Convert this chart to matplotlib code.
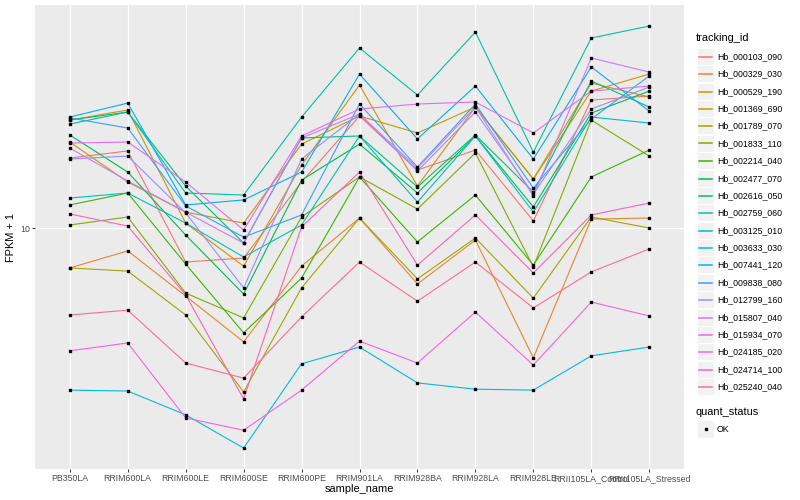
import matplotlib.pyplot as plt
from matplotlib.patches import Rectangle
from matplotlib.lines import Line2D

plt.rcParams['font.family'] = ['Liberation Sans', 'DejaVu Sans']

samples = ["PB350LA", "RRIM600LA", "RRIM600LE", "RRIM600SE", "RRIM600PE", "RRIM901LA",
           "RRIM928BA", "RRIM928LA", "RRIM928LE", "RRII105LA_Control", "RRII105LA_Stressed"]

tracking_ids = ["Hb_000103_090", "Hb_000329_030", "Hb_000529_190", "Hb_001369_690",
                "Hb_001789_070", "Hb_001833_110", "Hb_002214_040", "Hb_002477_070",
                "Hb_002616_050", "Hb_002759_060", "Hb_003125_010", "Hb_003633_030",
                "Hb_007441_120", "Hb_009838_080", "Hb_012799_160", "Hb_015807_040",
                "Hb_015934_070", "Hb_024185_020", "Hb_024714_100", "Hb_025240_040"]

# ggplot hue palette, 20 levels
colors = ["#F8766D", "#EA8331", "#D89000", "#C09B00", "#A3A500", "#7CAE00", "#39B600",
          "#00BB4E", "#00BF7D", "#00C1A3", "#00BFC4", "#00BAE0", "#00B0F6", "#35A2FF",
          "#9590FF", "#C77CFF", "#E76BF3", "#FA62DB", "#FF62BC", "#FF6C90"]

# FPKM + 1, one list per gene, in sample order
hb_000103_090 = [13.80, 14.26, 8.55, 8.71, 12.36, 16.75, 13.06, 14.32, 10.33, 18.03, 18.37]
hb_000329_030 = [8.32, 9.00, 7.31, 5.92, 8.39, 10.47, 7.73, 9.46, 5.50, 10.42, 10.47]
hb_000529_190 = [16.44, 17.22, 10.23, 8.39, 13.37, 19.32, 12.13, 17.46, 12.53, 18.79, 20.32]
hb_001369_690 = [14.86, 12.36, 10.76, 10.23, 14.72, 16.75, 15.49, 17.46, 12.53, 19.50, 18.28]
hb_001789_070 = [8.32, 8.20, 6.70, 4.70, 7.59, 10.47, 7.91, 9.55, 7.24, 10.52, 10.00]
hb_001833_110 = [10.14, 10.52, 7.41, 6.61, 10.52, 12.65, 10.91, 14.13, 8.36, 16.44, 13.93]
hb_002214_040 = [11.12, 11.75, 8.47, 6.17, 7.94, 12.65, 9.38, 11.64, 8.43, 12.65, 14.32]
hb_002477_070 = [15.35, 12.94, 9.68, 7.38, 12.47, 14.72, 11.75, 15.28, 11.02, 16.98, 18.79]
hb_002616_050 = [16.44, 17.06, 12.13, 9.33, 15.14, 15.28, 12.08, 15.35, 11.80, 19.68, 17.46]
hb_002759_060 = [16.14, 17.06, 11.75, 11.64, 16.67, 22.91, 18.45, 24.66, 14.19, 23.99, 25.35]
hb_003125_010 = [11.48, 11.75, 10.23, 8.75, 10.14, 15.28, 11.27, 15.28, 10.76, 16.67, 16.22]
hb_003633_030 = [4.74, 4.72, 4.23, 3.63, 5.35, 5.78, 4.90, 4.76, 4.74, 5.55, 5.78]
hb_007441_120 = [16.67, 17.78, 11.12, 11.38, 12.94, 20.32, 15.07, 19.23, 13.74, 20.99, 17.14]
hb_009838_080 = [16.60, 15.85, 11.07, 9.59, 10.62, 17.70, 13.24, 17.70, 12.02, 16.52, 20.14]
hb_012799_160 = [13.74, 13.93, 10.72, 7.59, 13.74, 16.90, 13.00, 17.06, 11.70, 17.30, 19.14]
hb_015807_040 = [14.45, 12.42, 10.76, 9.33, 15.14, 16.90, 13.18, 17.46, 11.59, 21.88, 20.51]
hb_015934_070 = [14.79, 14.86, 12.36, 9.91, 15.28, 17.30, 17.70, 17.87, 15.49, 18.79, 19.23]
hb_024185_020 = [5.68, 5.89, 4.17, 3.94, 4.74, 5.94, 5.37, 6.79, 5.32, 7.11, 6.67]
hb_024714_100 = [10.67, 10.09, 7.35, 4.55, 10.05, 12.94, 8.43, 10.62, 8.13, 10.62, 11.22]
hb_025240_040 = [6.70, 6.85, 5.37, 5.01, 6.64, 8.55, 7.14, 8.55, 6.92, 8.17, 9.08]

series = [hb_000103_090, hb_000329_030, hb_000529_190, hb_001369_690, hb_001789_070,
          hb_001833_110, hb_002214_040, hb_002477_070, hb_002616_050, hb_002759_060,
          hb_003125_010, hb_003633_030, hb_007441_120, hb_009838_080, hb_012799_160,
          hb_015807_040, hb_015934_070, hb_024185_020, hb_024714_100, hb_025240_040]

W, H = 800, 500
fig = plt.figure(figsize=(8, 5), dpi=100)
ax = fig.add_axes([35 / W, 31 / H, 649 / W, 464 / H])
ax.set_facecolor("#EBEBEB")

x = list(range(len(samples)))
for vals, col in zip(series, colors):
    ax.plot(x, vals, color=col, lw=0.8, zorder=3)
for vals in series:
    ax.plot(x, vals, ls="none", marker="s", ms=2.1, color="black", zorder=4)

ax.set_yscale("log")
ax.set_ylim(3.296, 27.93)
ax.set_xlim(-0.6, len(samples) - 0.4)
ax.set_yticks([10])
ax.set_yticklabels(["10"])
ax.yaxis.set_minor_locator(plt.NullLocator())
ax.set_xticks(x)
ax.set_xticklabels(samples)
ax.grid(True, color="white", lw=0.9, zorder=1)
ax.set_axisbelow(True)
for s in ax.spines.values():
    s.set_visible(False)
ax.tick_params(axis="both", colors="#333333", length=2, width=0.7, labelsize=6.3,
               labelcolor="#4D4D4D", pad=1.5)

ax.set_xlabel("sample_name", fontsize=7.9, labelpad=1)
ax.set_ylabel("FPKM + 1", fontsize=7.9, labelpad=3)


def fy(py):
    return 1 - py / H


# legend: tracking_id
fig.text(696 / W, fy(38), "tracking_id", fontsize=7.9, va="center")
step = 17.37
for i, (name, col) in enumerate(zip(tracking_ids, colors)):
    yc = round(56 + step * i) + 0.5
    fig.patches.append(Rectangle((697 / W, fy(yc + step / 2)), 17 / W, step / H,
                                 transform=fig.transFigure, facecolor="#F2F2F2",
                                 edgecolor="white", lw=0.7, zorder=1))
    fig.lines.append(Line2D([699 / W, 712 / W], [fy(yc), fy(yc)], color=col, lw=1.1,
                            transform=fig.transFigure, zorder=3))
    fig.text(717 / W, fy(yc), name, fontsize=6.3, va="center")

# legend: quant_status
fig.text(696 / W, fy(412), "quant_status", fontsize=7.9, va="center")
fig.patches.append(Rectangle((697 / W, fy(429 + step / 2)), 17 / W, step / H,
                             transform=fig.transFigure, facecolor="#F2F2F2",
                             edgecolor="white", lw=0.7, zorder=1))
fig.lines.append(Line2D([705.5 / W], [fy(429)], marker="s", ms=2.1, color="black",
                        transform=fig.transFigure, zorder=3))
fig.text(717 / W, fy(429), "OK", fontsize=6.3, va="center")

fig.savefig("out.png", dpi=100)
